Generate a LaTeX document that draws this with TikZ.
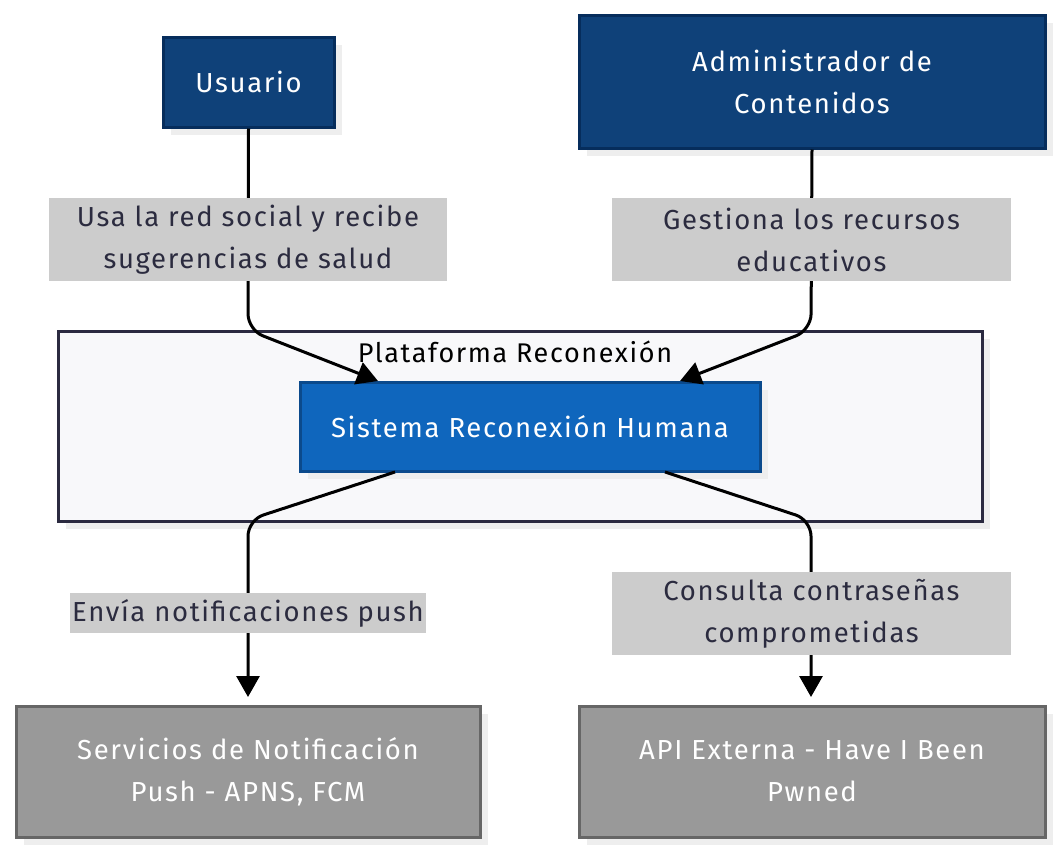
\documentclass[tikz,border=0pt]{standalone}
\usepackage{fontspec}
\setmainfont[LetterSpace=6]{Fira Sans}
\usetikzlibrary{arrows.meta,shadows}
\definecolor{dkfill}{HTML}{0F4179}
\definecolor{dkline}{HTML}{062D5C}
\definecolor{sysfill}{HTML}{0F66BD}
\definecolor{sysline}{HTML}{0B4A8C}
\definecolor{contfill}{HTML}{F8F8FA}
\definecolor{contline}{HTML}{2B2A40}
\definecolor{labfill}{HTML}{CCCCCC}
\definecolor{labtext}{HTML}{2B2B3F}
\definecolor{gryfill}{HTML}{999999}
\definecolor{gryline}{HTML}{666666}
\definecolor{shad}{HTML}{EEEEEE}
\tikzset{
  base/.style={rectangle, line width=3pt, align=center, font=\fontsize{27.5}{42}\selectfont, inner sep=0pt,
    drop shadow={shadow xshift=8pt, shadow yshift=-8pt, fill=shad, opacity=1}},
  actor/.style={base, draw=dkline, fill=dkfill, text=white},
  sysbox/.style={base, draw=sysline, fill=sysfill, text=white},
  contbox/.style={base, draw=contline, fill=contfill},
  extbox/.style={base, draw=gryline, fill=gryfill, text=white},
  lab/.style={rectangle, fill=labfill, text=labtext, align=center, inner sep=0pt, font=\fontsize{27.5}{42}\selectfont},
  conn/.style={line width=3pt, draw=black, rounded corners=16pt, -{Triangle[length=21pt,width=23pt]}},
}
\begin{document}
\begin{tikzpicture}[x=1pt,y=-1pt]
\useasboundingbox (0,0) rectangle (1060,854);
\node[contbox, minimum width=924pt, minimum height=190pt] (cont) at (520,426) {};
\node[font=\fontsize{27}{30}\selectfont, text=black] (conttitle) at (515,352) {Plataforma Reconexión};
\node[actor, minimum width=171pt, minimum height=90pt] (usuario) at (248.5,82) {Usuario};
\node[actor, minimum width=466pt, minimum height=133pt] (admin) at (812,81.5) {Administrador de\\Contenidos};
\node[sysbox, minimum width=460pt, minimum height=89pt] (sistema) at (530,426.5) {Sistema Reconexión Humana};
\node[extbox, minimum width=464pt, minimum height=131pt] (serv) at (248,771.5) {Servicios de Notificación\\Push - APNS, FCM};
\node[extbox, minimum width=466pt, minimum height=131pt] (api) at (812,771.5) {API Externa - Have I Been\\Pwned};
\coordinate (c1) at (248,330);
\coordinate (c2) at (811,330);
\coordinate (c3) at (248,520);
\coordinate (c4) at (811,520);
\coordinate (s1) at (378,381);
\coordinate (s2) at (680,381);
\coordinate (s3) at (395,472);
\coordinate (s4) at (665,472);
\draw[conn] (usuario.south) -- (c1) -- (s1);
\draw[conn] (admin.south) -- (c2) -- (s2);
\draw[conn] (s3) -- (c3) -- (serv.north |- 0,697);
\draw[conn] (s4) -- (c4) -- (811,697);
\node[lab, minimum width=398pt, minimum height=83pt] (l1) at (248,239.5) {Usa la red social y recibe\\sugerencias de salud};
\node[lab, minimum width=399pt, minimum height=83pt] (l2) at (811.5,239.5) {Gestiona los recursos\\educativos};
\node[lab, minimum width=356pt, minimum height=40pt] (l3) at (248,613) {Envía notificaciones push};
\node[lab, minimum width=399pt, minimum height=83pt] (l4) at (811.5,613.5) {Consulta contraseñas\\comprometidas};
\end{tikzpicture}
\end{document}
